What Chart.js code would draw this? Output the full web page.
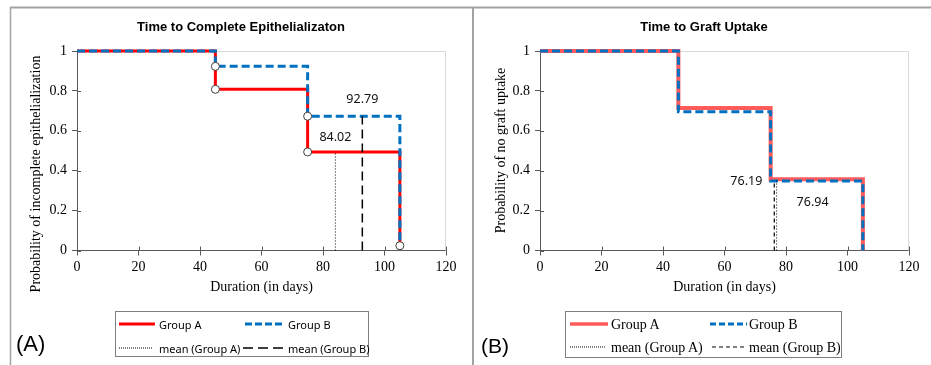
<!DOCTYPE html>
<html><head><meta charset="utf-8">
<script src="https://cdn.jsdelivr.net/npm/chart.js@4/dist/chart.umd.min.js"></script>
<style>
html,body{margin:0;padding:0;background:#fff;}
#page{position:relative;width:931px;height:365px;overflow:hidden;background:#fff;}
canvas{position:absolute;top:0;}
#cA{left:0;}
#cB{left:472px;}
#ov{position:absolute;left:0;top:0;pointer-events:none;}
</style></head><body>
<div id="page">
<canvas id="cA" width="470" height="365"></canvas>
<canvas id="cB" width="459" height="365"></canvas>
<svg id="ov" width="931" height="365" xmlns="http://www.w3.org/2000/svg">
  <line x1="10" y1="7.5" x2="931" y2="7.5" stroke="#A3A3A3" stroke-width="2"/>
  <line x1="10.5" y1="7" x2="10.5" y2="365" stroke="#A3A3A3" stroke-width="1.5"/>
  <line x1="473" y1="7" x2="473" y2="365" stroke="#A3A3A3" stroke-width="2"/>
  <text x="241" y="26" font-family="Liberation Sans" font-weight="bold" font-size="13" text-anchor="middle" dominant-baseline="central">Time to Complete Epithelializaton</text>
  <text x="704" y="26" font-family="Liberation Sans" font-weight="bold" font-size="13" text-anchor="middle" dominant-baseline="central">Time to Graft Uptake</text>
  <text transform="translate(35,174) rotate(-90)" font-family="Liberation Serif" font-size="14" text-anchor="middle" dominant-baseline="central">Probability of incomplete epithelialization</text>
  <text transform="translate(500,150.5) rotate(-90)" font-family="Liberation Serif" font-size="14" text-anchor="middle" dominant-baseline="central">Probability of no graft uptake</text>
  <text x="16" y="351" font-family="Liberation Sans" font-size="22">(A)</text>
  <text x="481" y="353" font-family="Liberation Sans" font-size="21">(B)</text>
  <!-- legend A -->
  <rect x="115.5" y="311.5" width="253" height="45" fill="#fff" stroke="#7F7F7F" stroke-width="1"/>
  <line x1="119" y1="324" x2="155" y2="324" stroke="#FF0000" stroke-width="3"/>
  <line x1="245" y1="324" x2="284" y2="324" stroke="#0070C0" stroke-width="3" stroke-dasharray="7 3"/>
  <line x1="119" y1="348" x2="153" y2="348" stroke="#000" stroke-width="1" stroke-dasharray="1 1"/>
  <line x1="243" y1="348" x2="283" y2="348" stroke="#000" stroke-width="1.5" stroke-dasharray="10 5"/>
  <g font-family="Noto Sans" font-size="11" dominant-baseline="central">
    <text x="159" y="324">Group A</text>
    <text x="288" y="324">Group B</text>
    <text x="159" y="348">mean (Group A)</text>
    <text x="288" y="348">mean (Group B)</text>
  </g>
  <!-- legend B -->
  <rect x="565.5" y="311.5" width="276" height="46" fill="#fff" stroke="#7F7F7F" stroke-width="1"/>
  <line x1="570" y1="324" x2="608" y2="324" stroke="#FF5B5B" stroke-width="3.5"/>
  <line x1="710" y1="324" x2="747" y2="324" stroke="#0070C0" stroke-width="3" stroke-dasharray="6 3"/>
  <line x1="570" y1="347" x2="606" y2="347" stroke="#000" stroke-width="1" stroke-dasharray="1 1"/>
  <line x1="712" y1="347" x2="745" y2="347" stroke="#000" stroke-width="1.2" stroke-dasharray="4 3"/>
  <g font-family="Liberation Serif" font-size="14" dominant-baseline="central">
    <text x="611" y="324">Group A</text>
    <text x="749" y="324">Group B</text>
    <text x="611" y="347">mean (Group A)</text>
    <text x="749" y="347">mean (Group B)</text>
  </g>
</svg>
</div>
<script>
// ---------- data ----------
const xTicks = [0, 20, 40, 60, 80, 100, 120];
const yTicks = [0, 0.2, 0.4, 0.6, 0.8, 1];
const yTickLabels = ['0', '0.2', '0.4', '0.6', '0.8', '1'];

// Panel A: Time to Complete Epithelialization
const epiTimes = [0, 45, 75, 105];
const epiGroupA = [1, 0.808, 0.494, 0];
const epiGroupB = [1, 0.923, 0.673, 0];
const epiMarkX = [45, 45, 75, 75, 105];
const epiMarkY = [0.923, 0.808, 0.673, 0.494, 0.024];
const epiMeanA = 84.02;
const epiMeanB = 92.79;

// Panel B: Time to Graft Uptake
const graftTimes = [0, 45, 75, 105];
const graftGroupA = [1, 0.714, 0.357, 0];
const graftGroupB = [1, 0.696, 0.348, 0];
const graftMeanA = 76.94;
const graftMeanB = 76.19;

// ---------- helpers ----------
function pts(xs, ys) { return xs.map((x, i) => ({ x: x, y: ys[i] })); }
function stepValue(times, surv, t) {
  let v = surv[0];
  for (let i = 0; i < times.length; i++) if (t >= times[i]) v = surv[i];
  return v;
}

const AXIS = '#595959';
const serif = 'Liberation Serif';

const framePlugin = {
  id: 'frame',
  beforeDatasetsDraw(chart) {
    const ctx = chart.ctx, a = chart.chartArea;
    const xs = chart.scales.x, ys = chart.scales.y;
    ctx.save();
    ctx.strokeStyle = '#D9D9D9';
    ctx.lineWidth = 1;
    ctx.beginPath();
    ctx.moveTo(a.left, Math.round(a.top) + 0.5);
    ctx.lineTo(Math.round(a.right) - 0.5, Math.round(a.top) + 0.5);
    ctx.lineTo(Math.round(a.right) - 0.5, a.bottom);
    ctx.stroke();
    ctx.strokeStyle = AXIS;
    ctx.beginPath();
    xs.ticks.forEach(t => {
      const px = Math.round(xs.getPixelForValue(t.value)) + 0.5;
      ctx.moveTo(px, a.bottom);
      ctx.lineTo(px, a.bottom - 4);
    });
    ys.ticks.forEach(t => {
      const py = Math.round(ys.getPixelForValue(t.value)) + 0.5;
      ctx.moveTo(a.left, py);
      ctx.lineTo(a.left + 4, py);
    });
    ctx.stroke();
    ctx.restore();
  },
  afterDatasetsDraw(chart, args, opts) {
    const labels = (opts && opts.labels) || [];
    const ctx = chart.ctx;
    const xs = chart.scales.x, ys = chart.scales.y;
    ctx.save();
    ctx.fillStyle = '#111';
    ctx.font = '12.5px "Noto Sans"';
    ctx.textBaseline = 'middle';
    labels.forEach(l => {
      ctx.textAlign = l.align;
      ctx.fillText(l.value.toFixed(2), xs.getPixelForValue(l.value) + l.dx, ys.getPixelForValue(l.top) + l.dy);
    });
    ctx.restore();
  }
};

function meanLine(label, mean, top, dash, width) {
  return {
    label: label, data: [{ x: mean, y: 0 }, { x: mean, y: top }],
    borderColor: '#000', borderWidth: width, borderDash: dash,
    pointRadius: 0, order: 1, clip: false
  };
}

function makeChart(id, datasets, yWidth, padRight, labels) {
  return new Chart(document.getElementById(id), {
    type: 'line',
    data: { datasets: datasets },
    plugins: [framePlugin],
    options: {
      responsive: false, animation: false, devicePixelRatio: 1,
      layout: { padding: { left: 0, right: padRight, top: 51, bottom: 69.5 } },
      plugins: { legend: { display: false }, tooltip: { enabled: false }, frame: { labels: labels } },
      scales: {
        x: {
          type: 'linear', min: 0, max: 120,
          afterBuildTicks: s => { s.ticks = xTicks.map(v => ({ value: v })); },
          ticks: { color: '#000', font: { family: serif, size: 14 }, padding: 3, maxRotation: 0, autoSkip: false },
          grid: { display: true, drawOnChartArea: false, drawTicks: true, tickLength: 5, color: AXIS },
          border: { display: true, color: AXIS, width: 1 },
          title: { display: true, text: 'Duration (in days)', color: '#000', font: { family: serif, size: 14 }, padding: { top: 0, bottom: 0 } },
          afterFit: s => { s.height = 45; }
        },
        y: {
          type: 'linear', min: 0, max: 1,
          afterBuildTicks: s => { s.ticks = yTicks.map(v => ({ value: v })); },
          ticks: { color: '#000', font: { family: serif, size: 14 }, padding: 5, autoSkip: false,
                   callback: (v, i) => yTickLabels[i] },
          grid: { display: true, drawOnChartArea: false, drawTicks: true, tickLength: 5, color: AXIS },
          border: { display: true, color: AXIS, width: 1 },
          afterFit: s => { s.width = yWidth; }
        }
      }
    }
  });
}

// Panel A
makeChart('cA', [
  { label: 'marks', data: pts(epiMarkX, epiMarkY), showLine: false, pointRadius: 4,
    pointBackgroundColor: '#fff', pointBorderColor: '#404040', pointBorderWidth: 1, order: 0, clip: false },
  meanLine('mean (Group A)', epiMeanA, stepValue(epiTimes, epiGroupA, epiMeanA), [1, 2], 1),
  meanLine('mean (Group B)', epiMeanB, stepValue(epiTimes, epiGroupB, epiMeanB), [9, 5], 1.5),
  { label: 'Group B', data: pts(epiTimes, epiGroupB), stepped: 'before', borderColor: '#0070C0',
    borderWidth: 3, borderDash: [8, 4], pointRadius: 0, order: 2, clip: false },
  { label: 'Group A', data: pts(epiTimes, epiGroupA), stepped: 'before', borderColor: '#FF0000',
    borderWidth: 3, pointRadius: 0, order: 3, clip: false }
], 77, 24, [
  { value: epiMeanA, top: stepValue(epiTimes, epiGroupA, epiMeanA), dx: 0, dy: -15, align: 'center' },
  { value: epiMeanB, top: stepValue(epiTimes, epiGroupB, epiMeanB), dx: 0, dy: -17, align: 'center' }
]);

// Panel B
makeChart('cB', [
  meanLine('mean (Group A)', graftMeanA, stepValue(graftTimes, graftGroupA, graftMeanA), [1, 2], 1),
  meanLine('mean (Group B)', graftMeanB, stepValue(graftTimes, graftGroupB, graftMeanB), [4, 3], 1.2),
  { label: 'Group B', data: pts(graftTimes, graftGroupB), stepped: 'before', borderColor: '#0070C0',
    borderWidth: 3, borderDash: [8, 4], pointRadius: 0, order: 2, clip: false },
  { label: 'Group A', data: pts(graftTimes, graftGroupA), stepped: 'before', borderColor: '#FF5B5B',
    borderWidth: 4, pointRadius: 0, order: 3, clip: false }
], 68, 22, [
  { value: graftMeanB, top: stepValue(graftTimes, graftGroupB, graftMeanB), dx: -12, dy: 0, align: 'right' },
  { value: graftMeanA, top: stepValue(graftTimes, graftGroupA, graftMeanA), dx: 20, dy: 23, align: 'left' }
]);
</script>
</body></html>
